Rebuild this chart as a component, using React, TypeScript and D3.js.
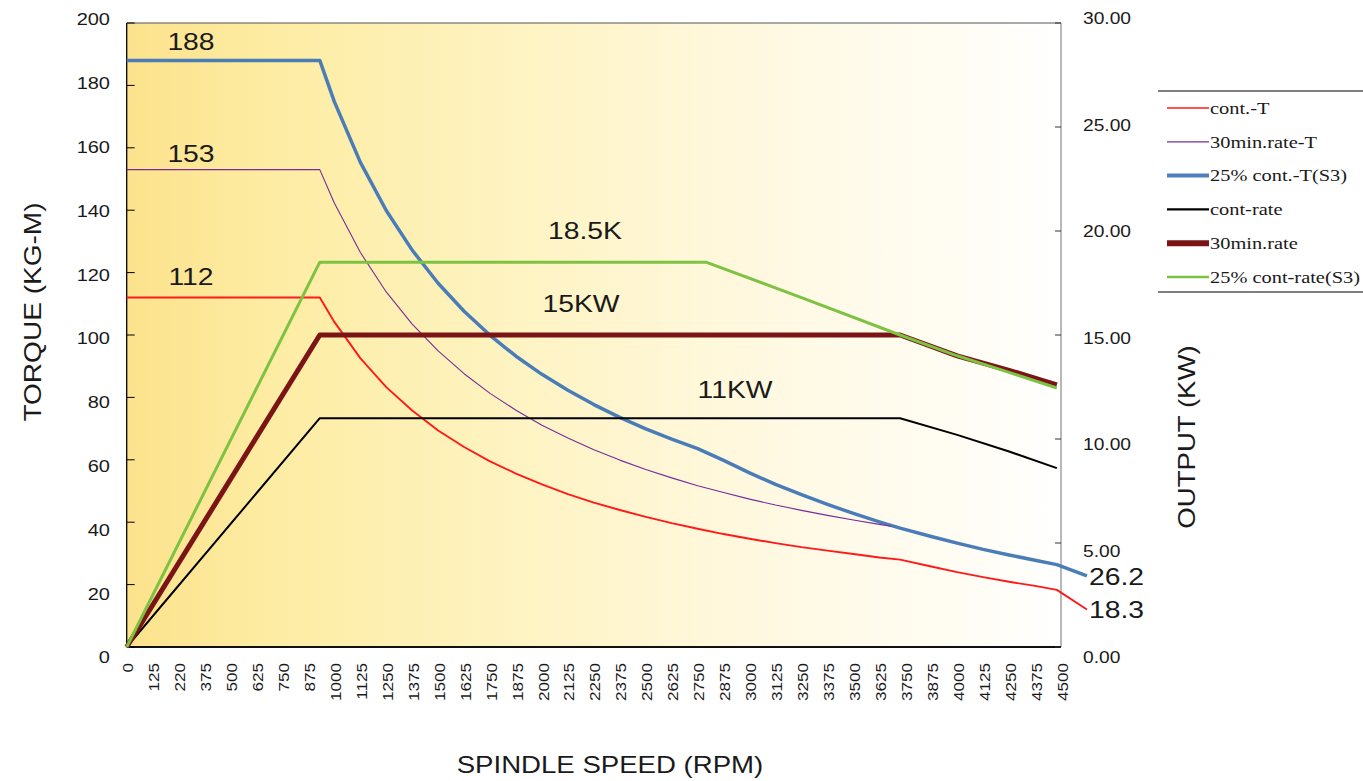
import React from "react";
import * as d3 from "d3";

// ---- data ----
const xTickValues = d3.range(0, 4501, 125);
const xTickLabels = ["0","125","220","375","500","625","750","875","1000","1125","1250","1375","1500","1625","1750","1875","2000","2125","2250","2375","2500","2625","2750","2875","3000","3125","3250","3375","3500","3625","3750","3875","4000","4125","4250","4375","4500"];
const leftTicks = [0, 20, 40, 60, 80, 100, 120, 140, 160, 180, 200];
const rightTicks = [0, 5, 10, 15, 20, 25, 30];

// torque (kg-m) vs rpm
const contT: [number, number][] = [[0,112],[930,112],[1000,104.2],[1125,92.6],[1250,83.3],[1375,75.8],[1500,69.4],[1625,64.1],[1750,59.5],[1875,55.6],[2000,52.1],[2125,49.0],[2250,46.3],[2375,43.9],[2500,41.7],[2625,39.7],[2750,37.9],[2875,36.2],[3000,34.7],[3125,33.3],[3250,32.0],[3375,30.9],[3500,29.8],[3625,28.7],[3725,28.0],[3875,25.8],[4000,24.0],[4125,22.4],[4250,20.9],[4375,19.6],[4480,18.3],[4625,12.0]];
const min30T: [number, number][] = [[0,153],[930,153],[1000,142.3],[1125,126.5],[1250,113.8],[1375,103.5],[1500,94.9],[1625,87.6],[1750,81.3],[1875,75.9],[2000,71.1],[2125,67.0],[2250,63.2],[2375,59.9],[2500,56.9],[2625,54.2],[2750,51.7],[2875,49.5],[3000,47.4],[3125,45.5],[3250,43.8],[3375,42.2],[3500,40.7],[3625,39.3],[3680,38.7]];
const s3T: [number, number][] = [[0,188],[930,188],[1000,174.8],[1125,155.4],[1250,139.9],[1375,127.2],[1500,116.6],[1625,107.6],[1750,99.9],[1875,93.2],[2000,87.4],[2125,82.3],[2250,77.7],[2375,73.6],[2500,69.9],[2625,66.6],[2750,63.6],[2875,59.8],[3000,55.8],[3125,52.1],[3250,48.8],[3375,45.7],[3500,42.8],[3625,40.1],[3725,38.1],[3875,35.4],[4000,33.3],[4125,31.3],[4250,29.5],[4375,27.8],[4480,26.4],[4625,22.8]];
// output (kW) vs rpm
const contP: [number, number][] = [[0,0],[930,11],[3725,11],[4000,10.2],[4250,9.4],[4480,8.6]];
const min30P: [number, number][] = [[0,0],[930,15],[3725,15],[4000,14.0],[4250,13.3],[4480,12.6]];
const s3P: [number, number][] = [[0,0],[930,18.5],[2790,18.5],[3250,16.8],[3725,15],[4000,14.0],[4250,13.2],[4480,12.45]];

const legendNames = ["cont.-T", "30min.rate-T", "25% cont.-T(S3)", "cont-rate", "30min.rate", "25% cont-rate(S3)"];
const legendColors = ["#ff1a1a", "#7a2a9a", "#4f81bd", "#000000", "#7b1416", "#7dc242"];
const legendWidths = [1.5, 1.2, 4, 2.2, 6, 2.5];

const font = "'Liberation Sans', Arial, sans-serif";

function T(props: { x: number; y: number; s: number; sx: number; anchor?: string; rot?: number; fam?: string; children: React.ReactNode }) {
  const { x, y, s, sx, anchor = "start", rot = 0, fam = font, children } = props;
  return (
    <text
      transform={`translate(${x},${y}) rotate(${rot}) scale(${sx},1)`}
      textAnchor={anchor}
      dominantBaseline="central"
      fontSize={s}
      fontFamily={fam}
      fill="#1a1a1a"
    >
      {children}
    </text>
  );
}

export default function App() {
  const x = d3.scaleLinear().domain([0, 4500]).range([126.7, 1061]);
  const yL = d3.scaleLinear().domain([0, 200]).range([647, 23]);
  const yR = d3.scaleLinear().domain([0, 30]).range([647, 23]);
  const yLlab = d3.scaleLinear().domain([0, 200]).range([658, 20]);
  const yRlab = d3.scaleLinear().domain([0, 30]).range([658, 19]);

  const lineT = d3.line<[number, number]>().x(d => x(d[0])).y(d => yL(d[1]));
  const lineP = d3.line<[number, number]>().x(d => x(d[0])).y(d => yR(d[1]));

  const series = [
    { d: lineT(s3T), c: "#4a7db8", w: 3.5 },
    { d: lineT(min30T), c: legendColors[1], w: 1.1 },
    { d: lineT(contT), c: legendColors[0], w: 1.9 },
    { d: lineP(contP), c: legendColors[3], w: 2 },
    { d: lineP(min30P), c: legendColors[4], w: 5 },
    { d: lineP(s3P), c: legendColors[5], w: 3 },
  ];

  return (
    <svg width={1363} height={781} style={{ position: "absolute", left: 0, top: 0, background: "#fff" }} fontFamily={font}>
      <defs>
        <linearGradient id="bg" x1="0" x2="1" y1="0" y2="0">
          <stop offset="0" stopColor="#fce28c" />
          <stop offset="0.15" stopColor="#fdeca2" />
          <stop offset="0.4" stopColor="#fef3c0" />
          <stop offset="0.7" stopColor="#fff9e3" />
          <stop offset="0.92" stopColor="#fffdf6" />
          <stop offset="1" stopColor="#ffffff" />
        </linearGradient>
      </defs>
      <rect x={x(0)} y={yL(200)} width={x(4500) - x(0)} height={yL(0) - yL(200)} fill="url(#bg)" />
      {/* frame */}
      <line x1={x(0)} x2={x(4500)} y1={yL(200)} y2={yL(200)} stroke="#555" strokeWidth={1.2} />
      <line x1={x(4500)} x2={x(4500)} y1={yL(200)} y2={yL(0)} stroke="#888" strokeWidth={1.2} />
      <line x1={x(0)} x2={x(0)} y1={yL(200)} y2={yL(0)} stroke="#000" strokeWidth={1.3} />
      <line x1={x(0)} x2={x(4500)} y1={yL(0)} y2={yL(0)} stroke="#111" strokeWidth={2} />

      {/* left ticks */}
      {leftTicks.map(t => (
        <g key={"l" + t}>
          <line x1={x(0)} x2={x(0) + 8} y1={yL(t)} y2={yL(t)} stroke="#000" strokeWidth={1} />
          <T x={110} y={yLlab(t)} s={16} sx={1.25} anchor="end">{t}</T>
        </g>
      ))}
      {/* right ticks */}
      {rightTicks.map(t => (
        <g key={"r" + t}>
          <line x1={x(4500) - 6} x2={x(4500)} y1={yR(t)} y2={yR(t)} stroke="#333" strokeWidth={1} />
          <T x={1083} y={yRlab(t)} s={16} sx={1.2}>{t.toFixed(2)}</T>
        </g>
      ))}
      {/* x tick labels */}
      {xTickValues.map((v, i) => (
        <T key={"x" + v} x={x(v) + 1} y={663} s={15} sx={1.14} rot={-90} anchor="end">{xTickLabels[i]}</T>
      ))}

      {/* series */}
      {series.map((s, i) => (
        <path key={i} d={s.d || ""} fill="none" stroke={s.c} strokeWidth={s.w} strokeLinejoin="round" />
      ))}

      {/* annotations */}
      <T x={191} y={42} s={24} sx={1.18} anchor="middle">188</T>
      <T x={191} y={154} s={24} sx={1.18} anchor="middle">153</T>
      <T x={191} y={277} s={24} sx={1.18} anchor="middle">112</T>
      <T x={585} y={231} s={24} sx={1.18} anchor="middle">18.5K</T>
      <T x={581} y={304} s={24} sx={1.18} anchor="middle">15KW</T>
      <T x={735} y={390} s={24} sx={1.18} anchor="middle">11KW</T>
      <T x={1089} y={577} s={24} sx={1.18}>26.2</T>
      <T x={1089} y={610} s={24} sx={1.18}>18.3</T>

      {/* axis titles */}
      <T x={33} y={312} s={23} sx={1.22} rot={-90} anchor="middle">TORQUE (KG-M)</T>
      <T x={1187} y={437} s={23} sx={1.2} rot={-90} anchor="middle">OUTPUT (KW)</T>
      <T x={610} y={765} s={23} sx={1.2} anchor="middle">SPINDLE SPEED (RPM)</T>

      {/* legend */}
      <line x1={1158} x2={1363} y1={91} y2={91} stroke="#000" strokeWidth={1.2} />
      <line x1={1158} x2={1363} y1={292} y2={292} stroke="#000" strokeWidth={1.2} />
      {legendNames.map((n, i) => {
        const yy = 108 + i * 33.8;
        return (
          <g key={n}>
            <line x1={1167} x2={1209} y1={yy} y2={yy} stroke={legendColors[i]} strokeWidth={legendWidths[i]} />
            <T x={1210} y={yy} s={17} sx={1.2} fam="'Liberation Serif', 'Times New Roman', serif">{n}</T>
          </g>
        );
      })}
    </svg>
  );
}
